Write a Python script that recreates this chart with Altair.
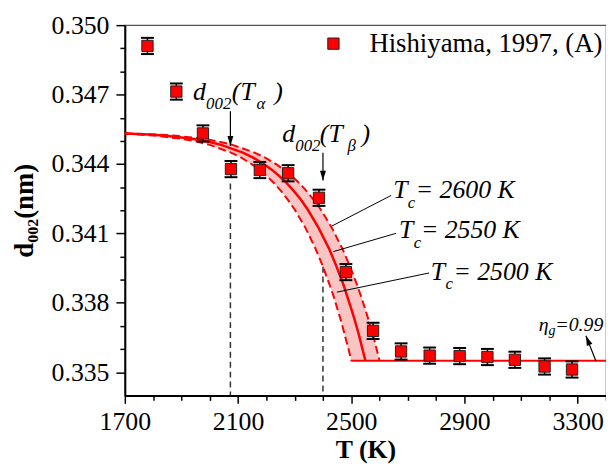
import altair as alt
import pandas as pd

# ---------------- data ----------------
# measured interlayer spacing (Hishiyama, 1997, sample A)
T_pts = [1780, 1882, 1976, 2075, 2177, 2277, 2386, 2481, 2577, 2676, 2777, 2883, 2981, 3078, 3183, 3280]
d_pts = [0.34910, 0.34713, 0.34532, 0.34378, 0.34374, 0.34360, 0.34254, 0.33933,
         0.33679, 0.33590, 0.33572, 0.33570, 0.33566, 0.33554, 0.33525, 0.33512]
d_err = [0.00035, 0.00035, 0.00035, 0.00035, 0.00035, 0.00035, 0.00035, 0.00035,
         0.00035, 0.00035, 0.00035, 0.00035, 0.00035, 0.00035, 0.00035, 0.00035]

# model curves (same d levels, temperature for each Tc)
d_curve = [0.34532, 0.345274, 0.345232, 0.345091, 0.34498, 0.344827, 0.344494, 0.344265,
           0.343981, 0.343756, 0.343496, 0.3432, 0.342861, 0.342474, 0.342032, 0.34125,
           0.340303, 0.339565, 0.338727, 0.338268, 0.33778, 0.337261, 0.336709, 0.33642,
           0.336123, 0.3355]
T_tc2550 = [1700, 1785, 1836, 1938, 1989, 2040, 2117, 2155, 2193, 2219, 2244, 2270, 2295, 2321,
            2346, 2384, 2423, 2448, 2474, 2486, 2499, 2512, 2525, 2531, 2537, 2550]
T_tc2500 = [1700, 1750, 1800, 1900, 1950, 2000, 2075, 2113, 2150, 2175, 2200, 2225, 2250, 2275,
            2300, 2338, 2375, 2400, 2425, 2438, 2450, 2463, 2475, 2481, 2488, 2500]
T_tc2600 = [1700, 1820, 1872, 1976, 2028, 2080, 2158, 2197, 2236, 2262, 2288, 2314, 2340, 2366,
            2392, 2431, 2470, 2496, 2522, 2535, 2548, 2561, 2574, 2581, 2587, 2600]

# graphitized plateau (eta_g = 0.99)
T_flat = [2500, 3400]
d_flat = [0.3355, 0.3355]

# characteristic temperatures T_alpha, T_beta
T_marks = [2073, 2400]
d_mark_top = [0.343155, 0.339562]

# ---------------- annotations ----------------
big_text = ["d", "(T", ")", "d", "(T", ")", "T", "= 2600 K", "T", "= 2550 K", "T", "= 2500 K"]
big_T = [1941, 2078, 2228, 2256, 2389, 2536, 2648, 2728, 2669, 2746, 2781, 2861]
big_d = [0.346749, 0.346749, 0.346749, 0.344952, 0.344952, 0.344952,
         0.342513, 0.342513, 0.340802, 0.340802, 0.339006, 0.339006]

small_text = ["002", "\u03b1", "002", "\u03b2", "c", "c", "c"]
small_T = [1987, 2165, 2302, 2487, 2700, 2721, 2833]
small_d = [0.346364, 0.346364, 0.344567, 0.344567, 0.342086, 0.340374, 0.338578]

eta_text = ["\u03b7", "=0.99"]
eta_T = [3162, 3221]
eta_d = [0.336781, 0.336781]
etasub_text = ["g"]
etasub_T = [3197]
etasub_d = [0.33661]

# arrows (T, d start) -> (T, d tip)
arr_T1 = [2073, 2400, 3364]
arr_d1 = [0.346278, 0.344481, 0.3355]
arr_T2 = [2073, 2400, 3329]
arr_d2 = [0.344781, 0.343284, 0.33658]
arr_angle = [0, 0, 158]

# leader lines for Tc labels
lead_T1 = [2641, 2658, 2775]
lead_d1 = [0.342642, 0.341003, 0.339292]
lead_T2 = [2431, 2437, 2449]
lead_d2 = [0.341316, 0.340216, 0.338462]

legend_label = ["Hishiyama, 1997, (A)"]
legend_T = [2437]
legend_d = [0.3492]
legend_text_T = [2564]
legend_text_d = [0.348845]

# ---------------- build tables ----------------
pts = pd.DataFrame({"T": T_pts, "d": d_pts, "err": d_err})
pts["lo"] = pts["d"] - pts["err"]
pts["hi"] = pts["d"] + pts["err"]

curves = pd.DataFrame({"d": d_curve, "T2500": T_tc2500, "T2550": T_tc2550, "T2600": T_tc2600})
curves["i"] = range(len(curves))
flat = pd.DataFrame({"T": T_flat, "d": d_flat})
marks = pd.DataFrame({"T": T_marks, "top": d_mark_top, "bottom": [0.334, 0.334]})
big = pd.DataFrame({"T": big_T, "d": big_d, "t": big_text})
small = pd.DataFrame({"T": small_T, "d": small_d, "t": small_text})
eta = pd.DataFrame({"T": eta_T, "d": eta_d, "t": eta_text})
etasub = pd.DataFrame({"T": etasub_T, "d": etasub_d, "t": etasub_text})
arr = pd.DataFrame({"T1": arr_T1, "d1": arr_d1, "T2": arr_T2, "d2": arr_d2, "ang": arr_angle})
lead = pd.DataFrame({"T1": lead_T1, "d1": lead_d1, "T2": lead_T2, "d2": lead_d2})
leg = pd.DataFrame({"T": legend_T, "d": legend_d})
legt = pd.DataFrame({"T": legend_text_T, "d": legend_text_d, "t": legend_label})

# ---------------- styling ----------------
FONT = "'Liberation Serif', 'Times New Roman', Times, 'DejaVu Serif', serif"
RED = "#ff0000"

xs = alt.Scale(domain=[1700, 3400], nice=False, zero=False)
ys = alt.Scale(domain=[0.334, 0.350], nice=False, zero=False)
x_ticks = list(range(1700, 3401, 100))
y_ticks = [round(0.335 + 0.001 * i, 3) for i in range(16)]

xaxis = alt.Axis(
    values=x_ticks,
    labelExpr="datum.value % 400 == 100 ? format(datum.value, 'd') : ''",
    tickSize={"condition": {"test": "datum.value % 400 == 100", "value": 8}, "value": 5},
    tickWidth=1.5, tickColor="black", domainColor="black", domainWidth=2,
    labelFont=FONT, labelFontSize=26, labelColor="black", labelPadding=5,
    labelFlush=False, labelOverlap=False,
    title="T (K)", titleFont=FONT, titleFontSize=26, titleFontWeight="bold",
    titleColor="black", titlePadding=3, grid=False,
)
yaxis = alt.Axis(
    values=y_ticks,
    labelExpr="round(datum.value * 1000) % 3 == 2 ? format(datum.value, '.3f') : ''",
    tickSize={"condition": {"test": "round(datum.value * 1000) % 3 == 2", "value": 9}, "value": 5},
    tickWidth=1.5, tickColor="black", domainColor="black", domainWidth=2,
    labelFont=FONT, labelFontSize=26, labelColor="black", labelPadding=7,
    labelFlush=False, labelOverlap=False,
    title="d\u2080\u2080\u2082(nm)", titleFont=FONT, titleFontSize=27, titleFontWeight="bold",
    titleColor="black", titlePadding=13, grid=False,
)


def X(field):
    return alt.X(field, type="quantitative", scale=xs, axis=xaxis)


def Y(field):
    return alt.Y(field, type="quantitative", scale=ys, axis=yaxis)


band = alt.Chart(curves).mark_area(orient="horizontal", color="#f8c4c4").encode(
    y=Y("d"), x=X("T2500"), x2="T2600:Q"
)
dash_lo = alt.Chart(curves).mark_line(color=RED, strokeWidth=2, strokeDash=[8, 4]).encode(
    x=X("T2500"), y=Y("d"), order="i:Q"
)
dash_hi = alt.Chart(curves).mark_line(color=RED, strokeWidth=2, strokeDash=[8, 4]).encode(
    x=X("T2600"), y=Y("d"), order="i:Q"
)
solid = alt.Chart(curves).mark_line(color=RED, strokeWidth=2.5).encode(
    x=X("T2550"), y=Y("d"), order="i:Q"
)
flat_line = alt.Chart(flat).mark_line(color=RED, strokeWidth=2).encode(x=X("T"), y=Y("d"))

vlines = alt.Chart(marks).mark_rule(color="#333333", strokeWidth=1.5, strokeDash=[6, 4]).encode(
    x=X("T"), y=Y("top"), y2="bottom:Q"
)
arrow_lines = alt.Chart(arr).mark_rule(color="black", strokeWidth=1.2).encode(
    x=X("T1"), y=Y("d1"), x2="T2:Q", y2="d2:Q"
)
arrow_heads = alt.Chart(arr).mark_point(
    shape="M0,0L-0.3,-1L0.3,-1Z", filled=True, color="black", size=400, opacity=1
).encode(x=X("T2"), y=Y("d2"), angle=alt.Angle("ang:Q", scale=None))
leaders = alt.Chart(lead).mark_rule(color="black", strokeWidth=1).encode(
    x=X("T1"), y=Y("d1"), x2="T2:Q", y2="d2:Q"
)

err_rule = alt.Chart(pts).mark_rule(color="black", strokeWidth=1.5).encode(
    x=X("T"), y=Y("lo"), y2="hi:Q"
)
cap_lo = alt.Chart(pts).mark_tick(orient="horizontal", color="black", size=13, thickness=2, opacity=1).encode(
    x=X("T"), y=Y("lo")
)
cap_hi = alt.Chart(pts).mark_tick(orient="horizontal", color="black", size=13, thickness=2, opacity=1).encode(
    x=X("T"), y=Y("hi")
)
squares = alt.Chart(pts).mark_point(
    shape="square", filled=True, fill=RED, stroke="#222222", strokeWidth=1, size=130, opacity=1
).encode(x=X("T"), y=Y("d"))

legend_sq = alt.Chart(leg).mark_point(
    shape="square", filled=True, fill=RED, stroke="#222222", strokeWidth=1, size=130, opacity=1
).encode(x=X("T"), y=Y("d"))
legend_txt = alt.Chart(legt).mark_text(
    align="left", baseline="alphabetic", font=FONT, fontSize=27, color="black"
).encode(x=X("T"), y=Y("d"), text="t:N")

big_txt = alt.Chart(big).mark_text(
    align="left", baseline="alphabetic", font=FONT, fontStyle="italic", fontSize=26, color="black"
).encode(x=X("T"), y=Y("d"), text="t:N")
small_txt = alt.Chart(small).mark_text(
    align="left", baseline="alphabetic", font=FONT, fontStyle="italic", fontSize=17, color="black"
).encode(x=X("T"), y=Y("d"), text="t:N")
eta_txt = alt.Chart(eta).mark_text(
    align="left", baseline="alphabetic", font=FONT, fontStyle="italic", fontSize=20, color="black"
).encode(x=X("T"), y=Y("d"), text="t:N")
etasub_txt = alt.Chart(etasub).mark_text(
    align="left", baseline="alphabetic", font=FONT, fontStyle="italic", fontSize=14, color="black"
).encode(x=X("T"), y=Y("d"), text="t:N")

chart = alt.layer(
    band, dash_lo, dash_hi, solid, flat_line, vlines, arrow_lines, arrow_heads, leaders,
    err_rule, cap_lo, cap_hi, squares, legend_sq, legend_txt,
    big_txt, small_txt, eta_txt, etasub_txt,
).properties(
    width=486, height=374,
    autosize=alt.AutoSizeParams(type="none"),
    padding={"left": 118, "top": 15, "right": 0, "bottom": 72},
    background="white",
).configure_view(stroke="#555555", strokeWidth=1.2)

chart.save("out.html", embed_options={"renderer": "svg", "actions": False})
